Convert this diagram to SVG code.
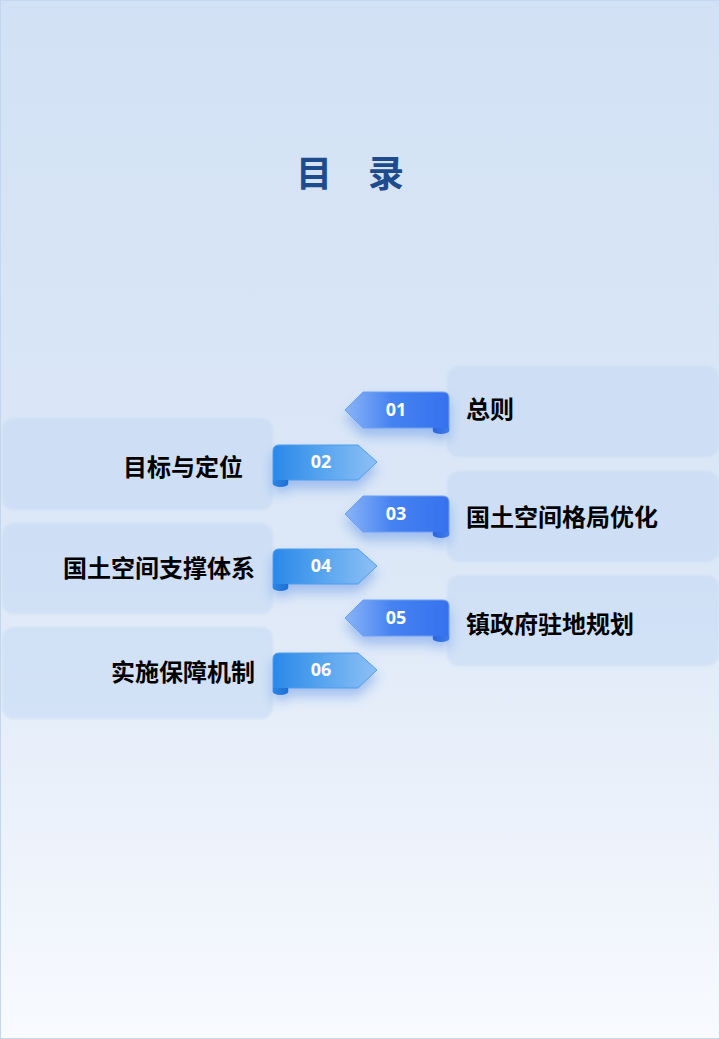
<svg xmlns="http://www.w3.org/2000/svg" width="720" height="1039" viewBox="0 0 720 1039">
  <defs>
    <linearGradient id="bg" x1="0" y1="0" x2="0" y2="1">
      <stop offset="0" stop-color="#d2e1f5"/>
      <stop offset="0.55" stop-color="#dde8f7"/>
      <stop offset="1" stop-color="#f8fafe"/>
    </linearGradient>
    <linearGradient id="gOdd" x1="345" y1="0" x2="449" y2="0" gradientUnits="userSpaceOnUse">
      <stop offset="0" stop-color="#8ab4f6"/>
      <stop offset="0.45" stop-color="#4682f1"/>
      <stop offset="1" stop-color="#3572ee"/>
    </linearGradient>
    <linearGradient id="gOddCurl" x1="433" y1="0" x2="449" y2="0" gradientUnits="userSpaceOnUse">
      <stop offset="0" stop-color="#2d66dc"/>
      <stop offset="1" stop-color="#3d7cf0"/>
    </linearGradient>
    <linearGradient id="gEven" x1="273" y1="0" x2="377" y2="0" gradientUnits="userSpaceOnUse">
      <stop offset="0" stop-color="#2a88e8"/>
      <stop offset="0.5" stop-color="#5aa6ef"/>
      <stop offset="1" stop-color="#8dc0f5"/>
    </linearGradient>
    <linearGradient id="gEvenCurl" x1="273" y1="0" x2="288" y2="0" gradientUnits="userSpaceOnUse">
      <stop offset="0" stop-color="#2b86e4"/>
      <stop offset="1" stop-color="#1d6fd2"/>
    </linearGradient>
    <filter id="sh" x="-30%" y="-40%" width="160%" height="200%">
      <feDropShadow dx="0" dy="8" stdDeviation="6" flood-color="#2f6fe0" flood-opacity="0.35"/>
    </filter>
    <filter id="soft" x="-5%" y="-10%" width="110%" height="120%">
      <feGaussianBlur stdDeviation="0.8"/>
    </filter>
  </defs>
  <style>
    .card { fill: #c2d8f4; fill-opacity: 0.5; }
    .lbl { font-family: "Noto Sans CJK SC", "Noto Sans", sans-serif; font-weight: 700; font-size: 24px; fill: #000000; }
    .num { font-family: "Open Sans", "Noto Sans", sans-serif; font-weight: 700; font-size: 18px; fill: #ffffff; text-anchor: middle; }
    .title { font-family: "Noto Sans CJK SC", sans-serif; font-weight: 700; font-size: 36px; fill: #1d4b8b; }
    .oddBody { fill: url(#gOdd); stroke: #6c9ff4; stroke-width: 1; }
    .evenBody { fill: url(#gEven); stroke: #4f9cee; stroke-width: 1; }
  </style>

  <rect x="0.5" y="0.5" width="719" height="1038" fill="url(#bg)" stroke="#c3d6ef" stroke-width="1"/>

  <text class="title" x="296" y="187">目　录</text>

  <g id="cards" filter="url(#soft)">
    <rect class="card" x="447" y="366" width="272" height="91" rx="12"/>
    <rect class="card" x="2" y="418" width="271" height="92" rx="12"/>
    <rect class="card" x="447" y="471" width="272" height="91" rx="12"/>
    <rect class="card" x="2" y="523" width="271" height="91" rx="12"/>
    <rect class="card" x="447" y="575" width="272" height="91" rx="12"/>
    <rect class="card" x="2" y="627" width="271" height="92" rx="12"/>
  </g>

  <g id="connectors"></g>

  <g id="node-01">
    <g filter="url(#sh)">
      <path class="oddBody" d="M345,410 L363,392 H443 Q449,392 449,398 V431 H433 V428 H363 Z"/>
    </g>
    <path d="M433,428 H449 V431 A8,3 0 0 1 433,431 Z" fill="url(#gOddCurl)"/>
    <text class="num" x="396" y="416">01</text>
    <text class="lbl" x="466" y="418">总则</text>
  </g>

  <g id="node-02">
    <g filter="url(#sh)">
      <path class="evenBody" d="M273,484 V451 Q273,445 279,445 H358 L377,462 L358,480 H288 V484 Z"/>
    </g>
    <path d="M273,480 H288 V484 A7.5,3 0 0 1 273,484 Z" fill="url(#gEvenCurl)"/>
    <text class="num" x="321" y="468">02</text>
    <text class="lbl" x="243" y="476" text-anchor="end">目标与定位</text>
  </g>

  <g id="node-03">
    <g transform="translate(0,104)">
      <g filter="url(#sh)">
        <path class="oddBody" d="M345,410 L363,392 H443 Q449,392 449,398 V431 H433 V428 H363 Z"/>
      </g>
      <path d="M433,428 H449 V431 A8,3 0 0 1 433,431 Z" fill="url(#gOddCurl)"/>
      <text class="num" x="396" y="416">03</text>
    </g>
    <text class="lbl" x="466" y="526">国土空间格局优化</text>
  </g>

  <g id="node-04">
    <g transform="translate(0,104)">
      <g filter="url(#sh)">
        <path class="evenBody" d="M273,484 V451 Q273,445 279,445 H358 L377,462 L358,480 H288 V484 Z"/>
      </g>
      <path d="M273,480 H288 V484 A7.5,3 0 0 1 273,484 Z" fill="url(#gEvenCurl)"/>
      <text class="num" x="321" y="468">04</text>
    </g>
    <text class="lbl" x="255" y="577" text-anchor="end">国土空间支撑体系</text>
  </g>

  <g id="node-05">
    <g transform="translate(0,208)">
      <g filter="url(#sh)">
        <path class="oddBody" d="M345,410 L363,392 H443 Q449,392 449,398 V431 H433 V428 H363 Z"/>
      </g>
      <path d="M433,428 H449 V431 A8,3 0 0 1 433,431 Z" fill="url(#gOddCurl)"/>
      <text class="num" x="396" y="416">05</text>
    </g>
    <text class="lbl" x="466" y="633">镇政府驻地规划</text>
  </g>

  <g id="node-06">
    <g transform="translate(0,208)">
      <g filter="url(#sh)">
        <path class="evenBody" d="M273,484 V451 Q273,445 279,445 H358 L377,462 L358,480 H288 V484 Z"/>
      </g>
      <path d="M273,480 H288 V484 A7.5,3 0 0 1 273,484 Z" fill="url(#gEvenCurl)"/>
      <text class="num" x="321" y="468">06</text>
    </g>
    <text class="lbl" x="255" y="681" text-anchor="end">实施保障机制</text>
  </g>
</svg>
